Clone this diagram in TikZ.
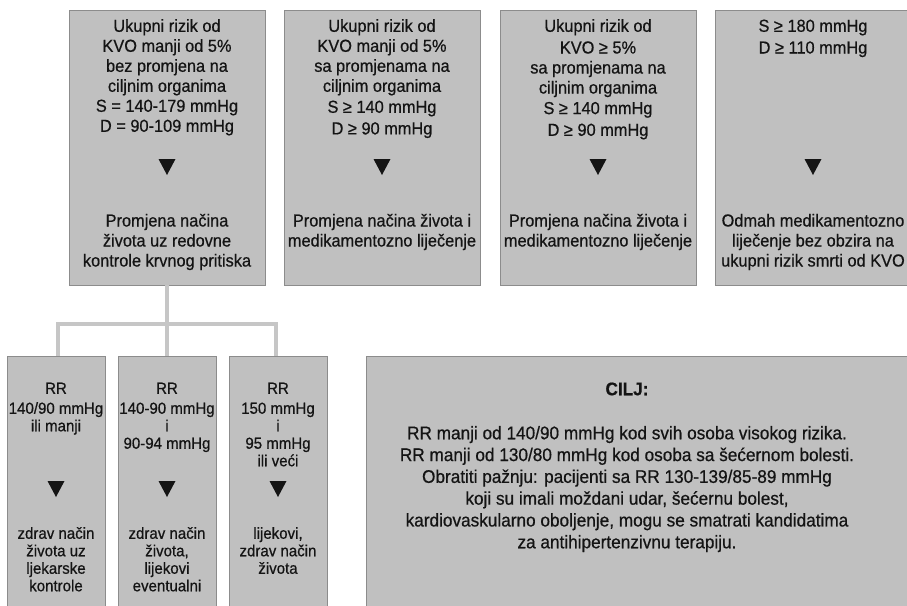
\documentclass[tikz,border=0pt]{standalone}
\usepackage{fontspec}
\setmainfont{Liberation Sans}[FakeStretch=0.94, FakeBold=0.6]
\usetikzlibrary{calc}
\definecolor{boxfill}{RGB}{192,192,192}
\definecolor{boxline}{RGB}{140,140,140}
\definecolor{connline}{RGB}{198,198,198}
\definecolor{txt}{RGB}{20,20,20}
\newcommand\downtri[3]{\fill[txt] (#1-8.5,#2) -- (#1+8.5,#2) -- (#1,#2+#3) -- cycle;}
\begin{document}
\begin{tikzpicture}[x=1pt,y=-1pt,
  box/.style={draw=boxline, line width=1pt, fill=boxfill, anchor=north west, inner sep=0pt, outer sep=0pt},
  toptxt/.style={anchor=north, align=center, inner sep=0pt, text=txt, font=\fontsize{17.4}{20}\selectfont},
  bottxt/.style={anchor=north, align=center, inner sep=0pt, text=txt, font=\fontsize{16}{17.5}\selectfont},
  goaltxt/.style={anchor=north, align=center, inner sep=0pt, text=txt, font=\fontsize{18.3}{21.8}\selectfont},
  conn/.style={draw=connline, line width=3.5pt}
]
\useasboundingbox (0,0) rectangle (907,605);
\clip (0,0) rectangle (907,605);

% top boxes
\node[box, minimum width=196pt, minimum height=275pt] (b1) at (69,10) {};
\node[box, minimum width=196pt, minimum height=275pt] (b2) at (284,10) {};
\node[box, minimum width=196pt, minimum height=275pt] (b3) at (500,10) {};
\node[box, minimum width=196pt, minimum height=275pt] (b4) at (715,10) {};

% bottom boxes
\node[box, minimum width=98pt, minimum height=260pt] (bA) at (7,356) {};
\node[box, minimum width=98pt, minimum height=260pt] (bB) at (118,356) {};
\node[box, minimum width=98pt, minimum height=260pt] (bC) at (229,356) {};
\node[box, minimum width=560pt, minimum height=260pt] (goal) at (366,356) {};

% connectors
\coordinate (j) at (167,324);
\draw[conn] (b1.south) -- (j);
\draw[conn] (j) -| ($(bA.north)+(2,0)$);
\draw[conn] (j) -| ($(bC.north)+(-2,0)$);
\draw[conn] (j) -- (bB.north);

% top texts
\node[toptxt] (t1) at (167,17.6) {\strut Ukupni rizik od\\KVO manji od 5\%\\bez promjena na\\ciljnim organima\\S = 140-179 mmHg\\D = 90-109 mmHg};
\node[toptxt] (t2) at (382,17.6) {\strut Ukupni rizik od\\KVO manji od 5\%\\sa promjenama na\\ciljnim organima\\[1pt]S ≥ 140 mmHg\\[1.6pt]D ≥ 90 mmHg};
\node[toptxt] (t3) at (598,17.6) {\strut Ukupni rizik od\\[1.7pt]KVO ≥ 5\%\\sa promjenama na\\ciljnim organima\\[0.6pt]S ≥ 140 mmHg\\[1.7pt]D ≥ 90 mmHg};
\node[toptxt] (t4) at (813,17.6) {\strut S ≥ 180 mmHg\\[1.7pt]D ≥ 110 mmHg};

\downtri{167}{159}{16}
\downtri{382}{159}{16}
\downtri{598}{159}{16}
\downtri{813}{159}{16}

\node[toptxt] (r1) at (167,212.3) {\strut Promjena načina\\života uz redovne\\kontrole krvnog pritiska};
\node[toptxt] (r2) at (382,212.3) {\strut Promjena načina života i\\medikamentozno liječenje};
\node[toptxt] (r3) at (598,212.3) {\strut Promjena načina života i\\medikamentozno liječenje};
\node[toptxt] (r4) at (813,212.3) {\strut Odmah medikamentozno\\liječenje bez obzira na\\ukupni rizik smrti od KVO};

% bottom texts
\node[bottxt] (sA) at (56,381.3) {\strut RR\\[2.5pt]140/90 mmHg\\ili manji};
\node[bottxt] (sB) at (167,381.3) {\strut RR\\[2.5pt]140-90 mmHg\\i\\90-94 mmHg};
\node[bottxt] (sC) at (278,381.3) {\strut RR\\[2.5pt]150 mmHg\\i\\95 mmHg\\ili veći};

\downtri{56}{481}{16}
\downtri{167}{481}{16}
\downtri{278}{481}{16}

\node[bottxt] (eA) at (56,526.3) {\strut zdrav način\\života uz\\ljekarske\\kontrole};
\node[bottxt] (eB) at (167,526.3) {\strut zdrav način\\života,\\lijekovi\\eventualni};
\node[bottxt] (eC) at (278,526.3) {\strut lijekovi,\\zdrav način\\života};

% goal
\node[goaltxt, font=\fontsize{18.3}{21.8}\selectfont\bfseries] (gt) at (627,379.8) {\strut CILJ:};
\node[goaltxt] (gb) at (627,423.8) {\strut RR manji od 140/90 mmHg kod svih osoba visokog rizika.\\RR manji od 130/80 mmHg kod osoba sa šećernom bolesti.\\Obratiti pažnju: pacijenti sa RR 130-139/85-89 mmHg\\koji su imali moždani udar, šećernu bolest,\\kardiovaskularno oboljenje, mogu se smatrati kandidatima\\za antihipertenzivnu terapiju.};
\end{tikzpicture}
\end{document}
